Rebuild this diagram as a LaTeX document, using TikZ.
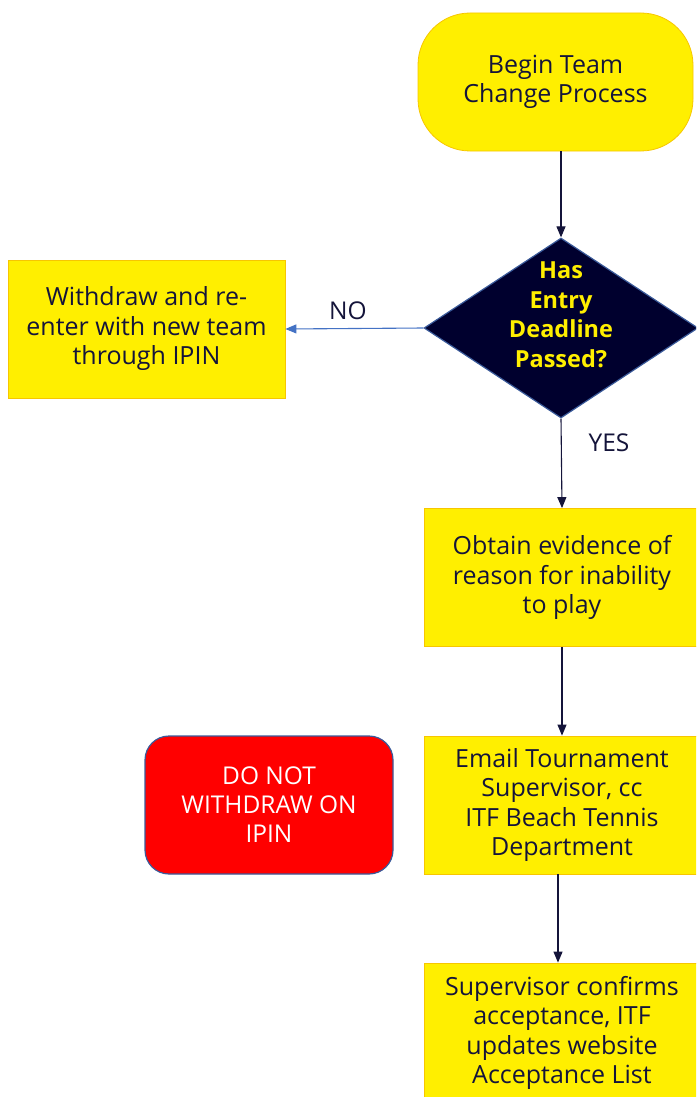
\documentclass[tikz,border=0pt]{standalone}
\usepackage{fontspec}
\setmainfont{Open Sans}
\usepackage{xcolor}
\usetikzlibrary{arrows.meta,shapes,positioning}
\definecolor{boxyellow}{HTML}{FFEF00}
\definecolor{boxedge}{HTML}{F7C600}
\definecolor{inknavy}{HTML}{14143A}
\definecolor{deepnavy}{HTML}{00002E}
\definecolor{diaedge}{HTML}{3A5A9A}
\definecolor{noblue}{HTML}{4472C4}
\definecolor{stopred}{HTML}{FF0000}

\tikzset{
	stepbox/.style={draw=boxedge, line width=0.8pt, fill=boxyellow, text=inknavy,
		minimum width=276pt, minimum height=138pt, inner sep=0pt, align=center,
		font=\fontsize{25}{29.5}\selectfont},
	flow/.style={-{Triangle[width=9pt,length=11pt]}, draw=inknavy, line width=1.1pt},
}

\begin{document}
\begin{tikzpicture}[x=1pt,y=-1pt]
				\clip (0,0) rectangle (696,1097);
				\node[stepbox, rounded corners=52pt, minimum width=275pt] (begin) at (555.5,82) {Begin Team\\Change Process};
				\node[diamond, draw=diaedge, line width=1.2pt, fill=deepnavy, minimum width=274pt, minimum height=180pt, inner sep=0pt,
					label={[text=boxyellow, font=\bfseries\fontsize{23.5}{29.5}\selectfont, align=center, yshift=13pt]center:Has\\Entry\\Deadline\\Passed?}] (deadline) at (561,328) {};
				\node[stepbox, minimum width=277pt] (reenter) at (146.5,329) {Withdraw and re-\\enter with new team\\through IPIN};
				\node[stepbox] (evidence) at (562,577.5) {Obtain evidence of\\reason for inability\\to play};
				\node[stepbox] (email) at (562,805) {Email Tournament\\Supervisor, cc\\ITF Beach Tennis\\Department};
				\node[stepbox, minimum height=140pt] (confirm) at (562,1033) {Supervisor confirms\\acceptance, ITF\\updates website\\Acceptance List};
				\node[draw=diaedge, line width=1.2pt, fill=stopred, text=white, rounded corners=24pt, minimum width=248pt, minimum height=138pt,
					inner sep=0pt, align=center, font=\fontsize{24.5}{29}\selectfont] (warning) at (269,805) {DO NOT\\WITHDRAW ON\\IPIN};
				
				\draw[flow] (begin.south -| deadline.north) -- (deadline.north);
				\draw[flow] (deadline.south) -- (evidence.north);
				\draw[flow] (evidence.south) -- (email.north);
				\draw[flow] ([xshift=-4pt]email.south) -- ([xshift=-4pt]confirm.north);
				\draw[flow, draw=noblue] (deadline.west) -- (reenter.east);
				\node[text=inknavy, font=\fontsize{24.5}{28}\selectfont] (no) at (348,311) {NO};
				\node[text=inknavy, font=\fontsize{24.5}{28}\selectfont] (yes) at (609,443) {YES};
			\end{tikzpicture}
\end{document}
